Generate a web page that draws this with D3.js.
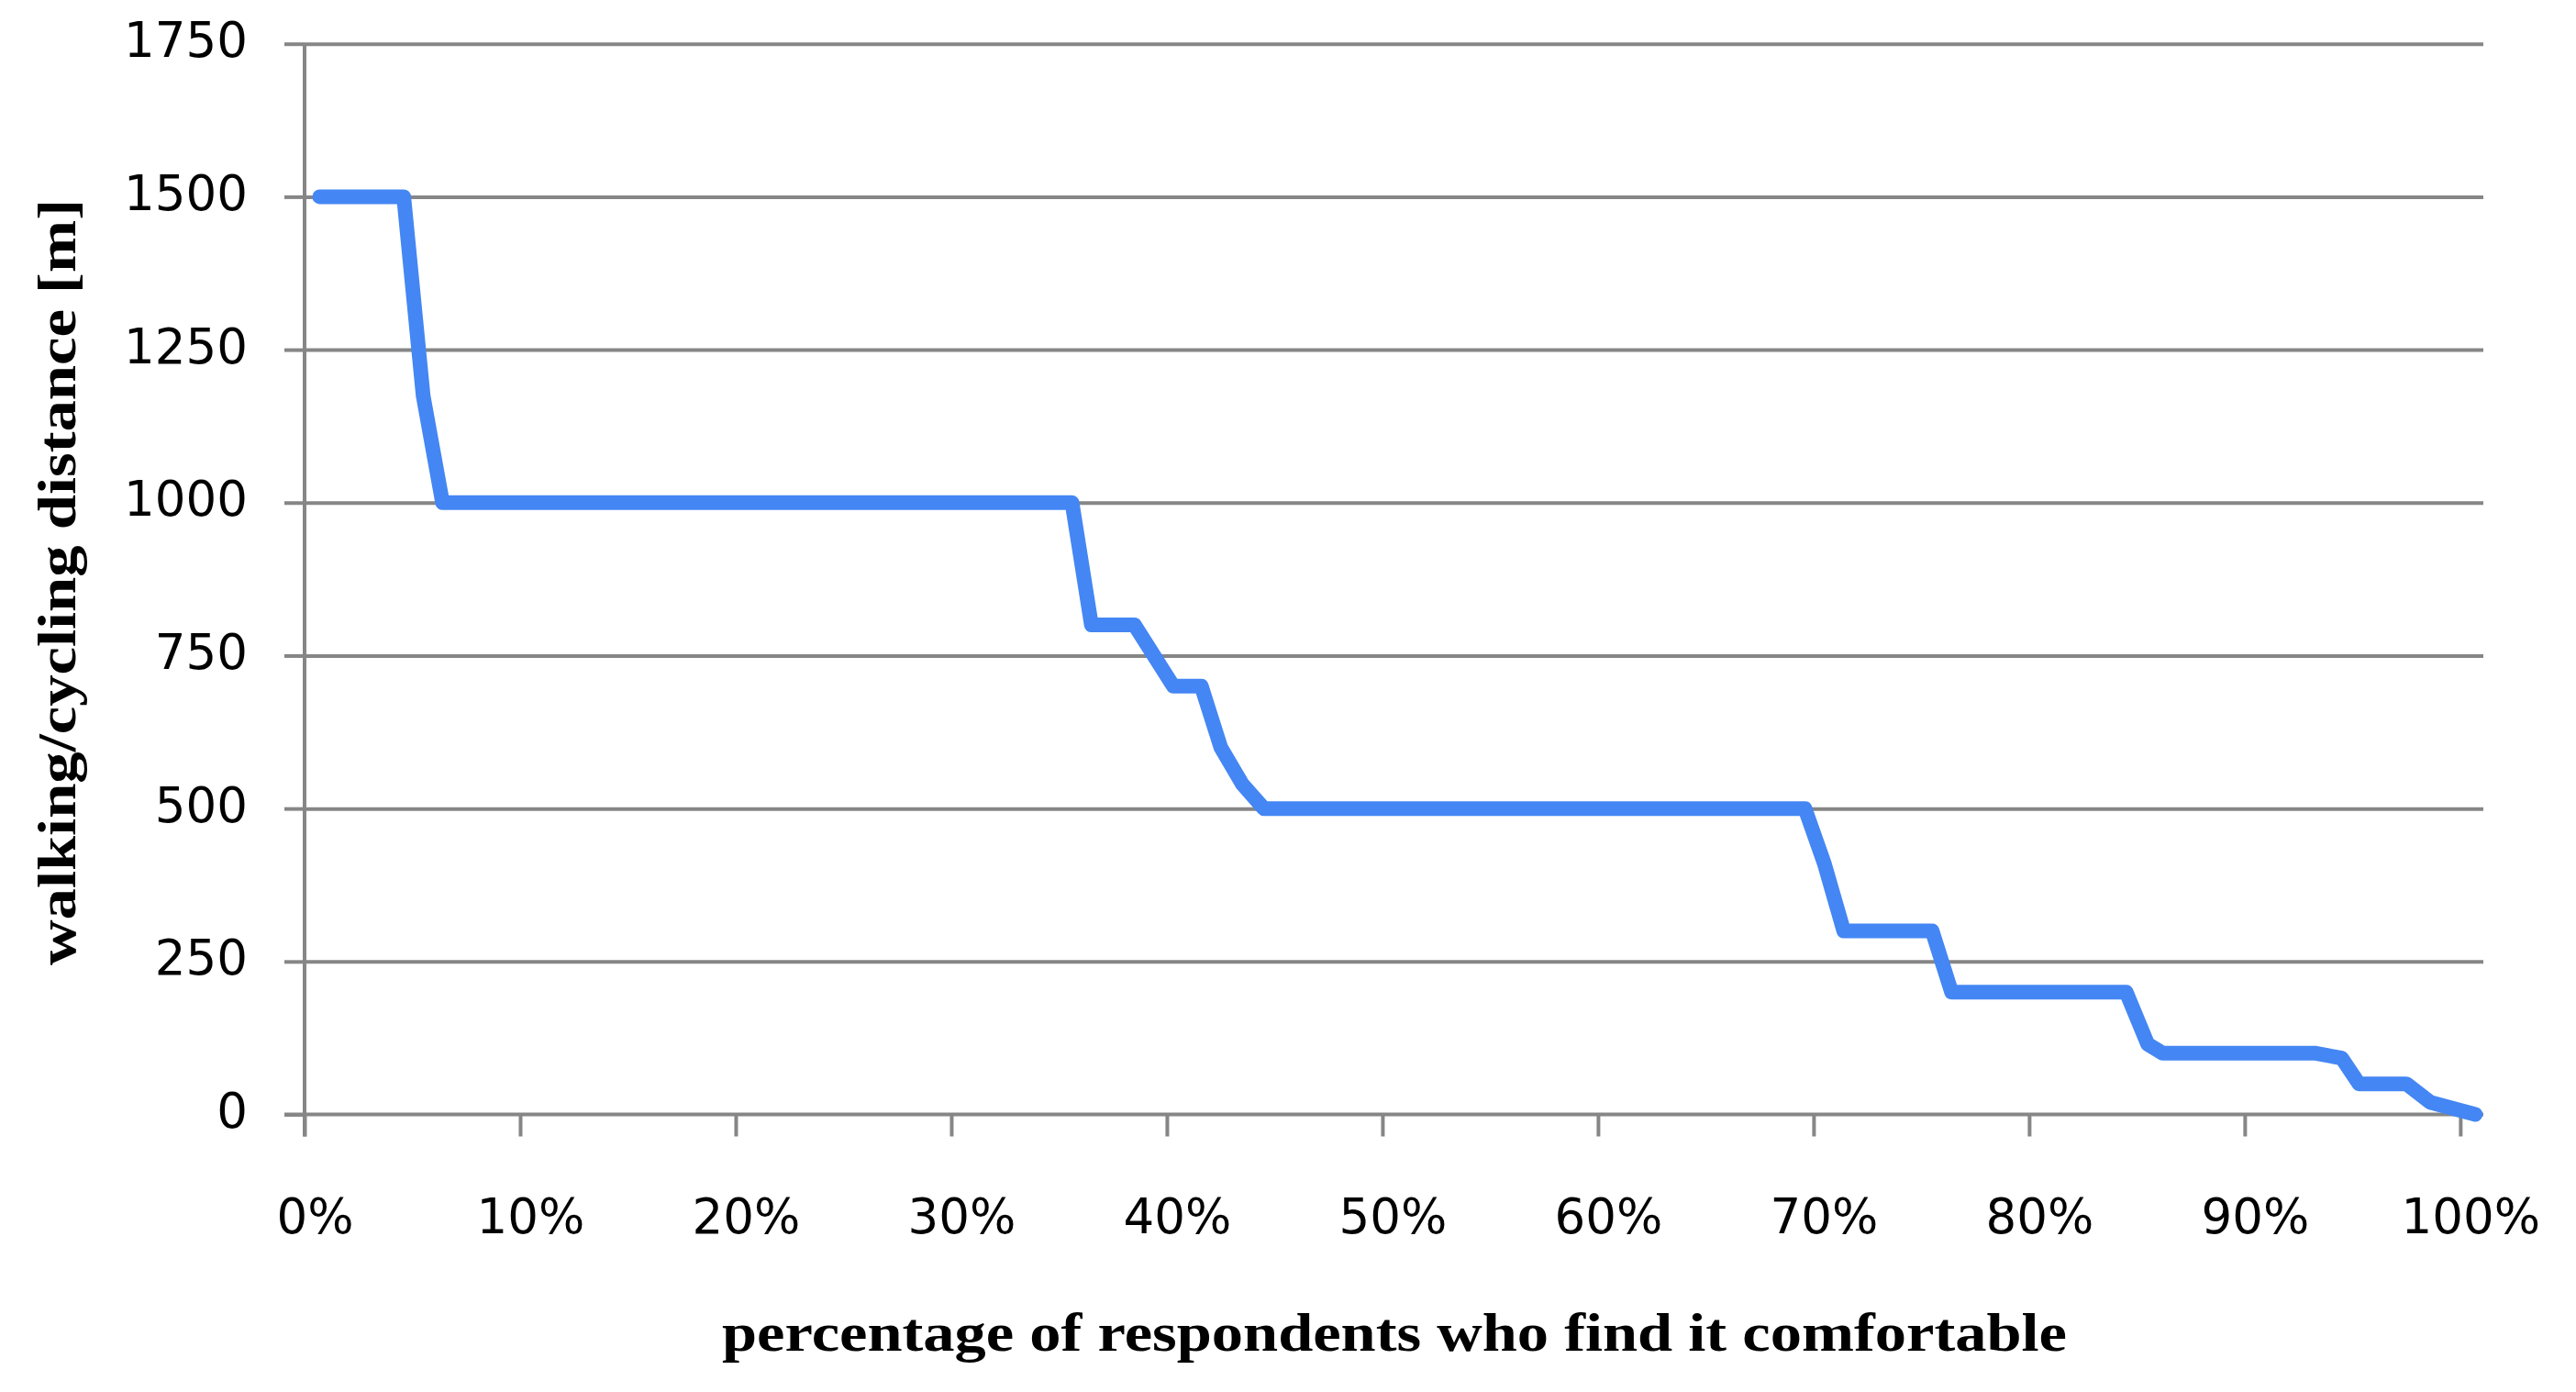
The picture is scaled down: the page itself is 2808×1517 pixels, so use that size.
<!DOCTYPE html>
<html>
<head>
<meta charset="utf-8">
<script src="https://cdn.jsdelivr.net/npm/d3@7"></script>
<style>
  html, body { margin: 0; padding: 0; background: #ffffff; }
  svg { display: block; }
</style>
</head>
<body>
<svg id="chart" width="2808" height="1517"></svg>
<script>
// ---- data ----
const pct  = [0.7, 4.6, 5.5, 6.4, 35.6, 36.5, 38.5, 40.3, 41.6, 42.5, 43.5, 44.5, 69.6, 70.5, 71.4, 75.5, 76.4, 84.5, 85.5, 86.2, 93.3, 94.5, 95.3, 97.5, 98.6, 100.7];
const dist = [1500, 1500, 1175, 1000, 1000, 800, 800, 700, 700, 600, 540, 500, 500, 410, 300, 300, 200, 200, 115, 100, 100, 92, 50, 50, 20, 0];
const yTicks = [0, 250, 500, 750, 1000, 1250, 1500, 1750];
const xTicks = [0, 10, 20, 30, 40, 50, 60, 70, 80, 90, 100];
const xLabel = "percentage of respondents who find it comfortable";
const yLabel = "walking/cycling distance [m]";

(function () {
// ---- layout ----
const svg = d3.select("#chart");
const pLeft = 332, pRight = 2707, pTop = 47.7, pBottom = 1214.5;
const xAxisMax = 101.07;
const x = d3.scaleLinear().domain([0, 100]).range([pLeft, pLeft + (pRight - pLeft) * 100 / xAxisMax]);
const y = d3.scaleLinear().domain([0, 1750]).range([pBottom, pTop]);
const gray = "#868686";
const tickFont = "'DejaVu Sans', Verdana, sans-serif";

// grid lines
const grid = svg.append("g")
  .attr("transform", `translate(${pLeft},0)`)
  .call(d3.axisLeft(y).tickValues(yTicks.filter(v => v > 0)).tickSize(-(pRight - pLeft)).tickFormat(""));
grid.select(".domain").remove();
grid.selectAll(".tick line").attr("stroke", gray).attr("stroke-width", 4);

// y axis with labels
const ya = svg.append("g")
  .attr("transform", `translate(${pLeft},0)`)
  .call(d3.axisLeft(y).tickValues(yTicks).tickSize(22).tickSizeOuter(0).tickPadding(40).tickFormat(d3.format("d")));
ya.select(".domain").attr("stroke", gray).attr("stroke-width", 4)
  .attr("d", `M0,${pTop}V${pBottom + 24}`);
ya.selectAll(".tick line").attr("stroke", gray).attr("stroke-width", 4);
ya.selectAll(".tick text")
  .attr("font-family", tickFont).attr("font-size", 53).attr("fill", "#000")
  .attr("dy", "14");

// x axis with labels
const xa = svg.append("g")
  .attr("transform", `translate(0,${pBottom})`)
  .call(d3.axisBottom(x).tickValues(xTicks).tickSize(24).tickSizeOuter(0).tickFormat(d => d + "%"));
xa.select(".domain").attr("stroke", gray).attr("stroke-width", 4)
  .attr("d", `M${pLeft - 22},0H${pRight}`);
xa.selectAll(".tick line").attr("stroke", gray).attr("stroke-width", 4);
xa.selectAll(".tick text")
  .attr("font-family", tickFont).attr("font-size", 53).attr("fill", "#000")
  .attr("y", 129).attr("dy", 0).attr("dx", 11);

// the line
const pts = pct.map((p, i) => [p, dist[i]]);
svg.append("path")
  .datum(pts)
  .attr("fill", "none")
  .attr("stroke", "#4486F4")
  .attr("stroke-width", 16)
  .attr("stroke-linejoin", "round")
  .attr("stroke-linecap", "round")
  .attr("d", d3.line().x(d => x(d[0])).y(d => y(d[1])));

// axis titles
const titleFont = "'Liberation Serif', 'Times New Roman', serif";
svg.append("text")
  .attr("x", 787).attr("y", 1472)
  .attr("font-family", titleFont).attr("font-weight", "bold").attr("font-size", 60)
  .attr("textLength", 1466).attr("lengthAdjust", "spacingAndGlyphs")
  .attr("fill", "#000")
  .text(xLabel);

svg.append("text")
  .attr("transform", "translate(82,1052) rotate(-90)")
  .attr("x", 0).attr("y", 0)
  .attr("font-family", titleFont).attr("font-weight", "bold").attr("font-size", 60)
  .attr("textLength", 835).attr("lengthAdjust", "spacingAndGlyphs")
  .attr("fill", "#000")
  .text(yLabel);
})();
</script>
</body>
</html>
